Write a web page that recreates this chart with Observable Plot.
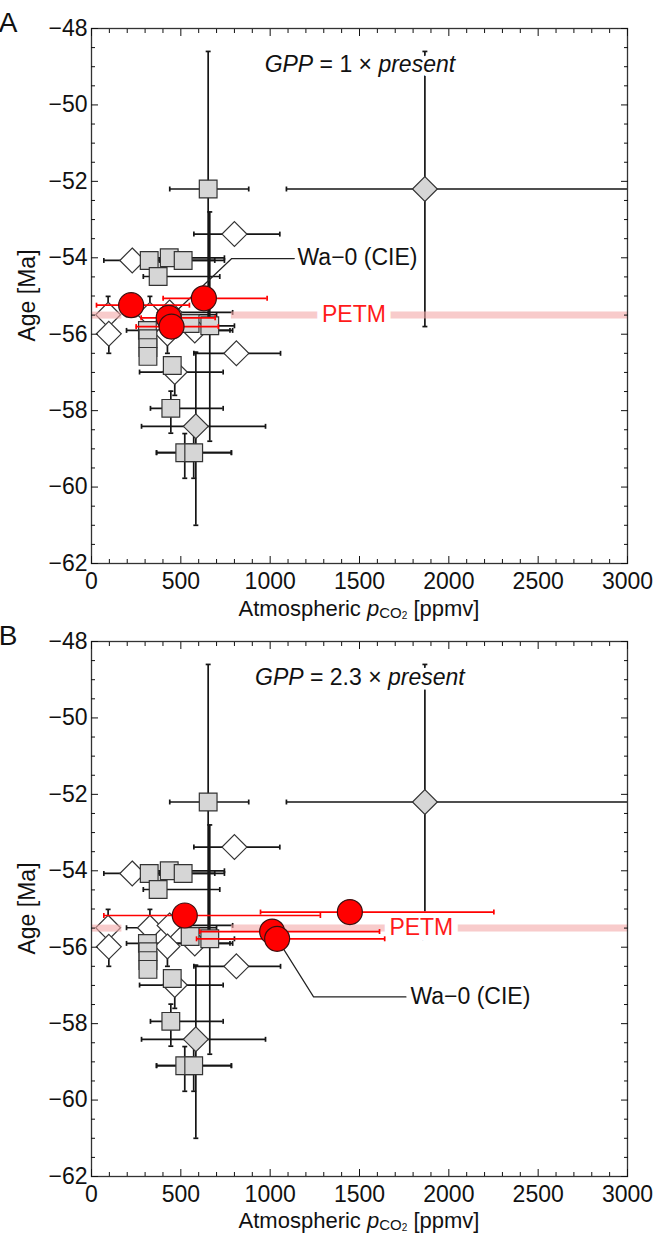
<!DOCTYPE html>
<html>
<head>
<meta charset="utf-8">
<script src="https://cdn.jsdelivr.net/npm/d3@7"></script>
<script src="https://cdn.jsdelivr.net/npm/@observablehq/plot@0.6"></script>
<style>
  body { margin: 0; background: #fff; }
  #chart { width: 655px; }
  #chart svg { display: block; overflow: visible; }
</style>
</head>
<body>
<div id="chart"></div>
<script>
// ---------- axis ticks ----------
const xMajor = [0, 500, 1000, 1500, 2000, 2500, 3000];
const xMinor = d3.range(0, 3001, 100).filter(v => v % 500 !== 0);
const yMajor = [-62, -60, -58, -56, -54, -52, -50, -48];
const yMinor = d3.range(-62, -47.9, 0.5).filter(v => v % 2 !== 0);

// ---------- proxy data (shared by both panels) ----------
// gray squares: x = pCO2 (ppmv), y = age (Ma), x1/x2 and y1/y2 = error bars
const graySquares = [
  {x: 653, y: -52.2, x1: 438, x2: 880, y1: -55.8, y2: -48.6},
  {x: 323, y: -54.07, x1: 200, x2: 690},
  {x: 435, y: -54.0, x1: 330, x2: 744},
  {x: 513, y: -54.07, x1: 380, x2: 744},
  {x: 373, y: -54.49, x1: 290, x2: 718},
  {x: 552, y: -55.72},
  {x: 662, y: -55.78, x1: 540, x2: 800, y1: -58.8, y2: -52.8},
  {x: 313, y: -55.9, x1: 196, x2: 775},
  {x: 316, y: -56.12},
  {x: 316, y: -56.35},
  {x: 316, y: -56.58},
  {x: 452, y: -56.82},
  {x: 444, y: -57.94, x1: 330, x2: 737, y1: -58.59, y2: -57.49},
  {x: 522, y: -59.1, x1: 364, x2: 783, y1: -59.77, y2: -58.6},
  {x: 572, y: -59.1, x1: 364, x2: 783, y1: -59.77, y2: -58.6}
];
// white diamonds
const whiteDiamonds = [
  {x: 93, y: -55.49, y1: -55.97, y2: -55.01},
  {x: 97, y: -55.99, y1: -56.5, y2: -55.5},
  {x: 327, y: -55.49, x1: 196, x2: 700, y1: -55.97, y2: -55.01},
  {x: 437, y: -55.43, x1: 300, x2: 790},
  {x: 425, y: -55.98, y1: -56.5, y2: -55.5},
  {x: 578, y: -55.9, x1: 400, x2: 790},
  {x: 466, y: -56.99, x1: 269, x2: 737, y1: -57.6, y2: -56.6},
  {x: 811, y: -56.5, x1: 573, x2: 1058},
  {x: 800, y: -53.38, x1: 573, x2: 1054},
  {x: 228, y: -54.07, x1: 69, x2: 390}
];
// gray diamonds
const grayDiamonds = [
  {x: 1866, y: -52.2, x1: 1091, x2: 3200, y1: -55.8, y2: -48.6},
  {x: 584, y: -58.41, x1: 280, x2: 974, y1: -61.0, y2: -56.47}
];

// ---------- model estimates for the Wa-0 (CIE) interval (red) ----------
const redA = [
  {x: 222, y: -55.24, x1: 28, x2: 548},
  {x: 629, y: -55.06, x1: 401, x2: 983},
  {x: 432, y: -55.57, x1: 278, x2: 692},
  {x: 448, y: -55.8, x1: 250, x2: 710}
];
const redB = [
  {x: 522, y: -55.17, x1: 69, x2: 1281},
  {x: 1446, y: -55.08, x1: 946, x2: 2252},
  {x: 1011, y: -55.59, x1: 606, x2: 1612},
  {x: 1039, y: -55.78, x1: 588, x2: 1641}
];

// ---------- annotations ----------
const petmY = -55.5;
const bandA = [{x1: 0, x2: 170}, {x1: 783, x2: 3000}];
const bandB = [{x1: 0, x2: 170}, {x1: 783, x2: 3000}];
const petmLabelA = [{x: 1469, y: petmY, text: "PETM"}];
const petmLabelB = [{x: 1846, y: petmY, text: "PETM"}];
const waLabelA = [{x: 1153, y: -54.0, text: "Wa\u22120 (CIE)"}];
const waLabelB = [{x: 1785, y: -57.3, text: "Wa\u22120 (CIE)"}];
const waLeaderA = [{x: 1135, y: -54.02}, {x: 785, y: -54.02}, {x: 440, y: -55.55}];
const waLeaderB = [{x: 1760, y: -57.3}, {x: 1243, y: -57.3}, {x: 1039, y: -55.78}];
const gppA = {x: 1505, baselineAbove: 44, factor: "1"};
const gppB = {x: 1505, baselineAbove: 44, factor: "2.3"};

// ---------- helpers ----------
const FONT = "'Liberation Sans', Arial, Helvetica, sans-serif";
const fmt = d3.format("d");
const capV = {draw(ctx, size) { const h = Math.sqrt(size) / 2; ctx.moveTo(0, -h); ctx.lineTo(0, h); }};
const capH = {draw(ctx, size) { const h = Math.sqrt(size) / 2; ctx.moveTo(-h, 0); ctx.lineTo(h, 0); }};
const hasH = rows => rows.filter(d => d.x1 != null);
const hasV = rows => rows.filter(d => d.y1 != null);
const hCaps = rows => hasH(rows).flatMap(d => [{x: d.x1, y: d.y}, {x: d.x2, y: d.y}]);
const vCaps = rows => hasV(rows).flatMap(d => [{x: d.x, y: d.y1}, {x: d.x, y: d.y2}]);

function panel(cfg) {
  const black = [...graySquares, ...whiteDiamonds, ...grayDiamonds];
  const ink = "#151515";
  const plot = Plot.plot({
    width: 655,
    height: cfg.height,
    marginTop: cfg.marginTop,
    marginBottom: 57,
    marginLeft: 91,
    marginRight: 28,
    x: {domain: [0, 3000], label: null},
    y: {domain: [-62, -48], label: null},
    style: {fontFamily: FONT, color: "#111", background: "transparent", overflow: "visible"},
    marks: [
      // black error bars
      Plot.ruleY(hasH(black), {y: "y", x1: "x1", x2: "x2", stroke: ink, strokeWidth: 1.7, clip: true}),
      Plot.ruleX(hasV(black), {x: "x", y1: "y1", y2: "y2", stroke: ink, strokeWidth: 1.7, clip: true}),
      Plot.dot(hCaps(black), {x: "x", y: "y", symbol: capV, r: 2.8, fill: "none", stroke: ink, strokeWidth: 1.7, clip: true}),
      Plot.dot(vCaps(black), {x: "x", y: "y", symbol: capH, r: 2.8, fill: "none", stroke: ink, strokeWidth: 1.7, clip: true}),
      // markers
      Plot.dot(grayDiamonds, {x: "x", y: "y", symbol: "diamond2", r: 11.2, fill: "#d6d6d6", stroke: "#333", strokeWidth: 1.2}),
      Plot.dot(whiteDiamonds, {x: "x", y: "y", symbol: "diamond2", r: 11.2, fill: "#fff", stroke: "#333", strokeWidth: 1.2}),
      Plot.dot(graySquares, {x: "x", y: "y", symbol: "square", r: 10, fill: "#d6d6d6", stroke: "#333", strokeWidth: 1.2}),
      // PETM band
      Plot.ruleY(cfg.band, {y: () => petmY, x1: "x1", x2: "x2", stroke: "#f4a8a8", strokeOpacity: 0.6, strokeWidth: 7}),
      // PETM label with white box
      Plot.text(cfg.petm, {x: "x", y: "y", text: "text", fill: "#ff1a1a", stroke: "#fff", strokeWidth: 13, paintOrder: "stroke", fontSize: 23, lineAnchor: "middle"}),
      // Wa-0 leader + label
      Plot.line(cfg.leader, {x: "x", y: "y", stroke: "#222", strokeWidth: 1.2}),
      Plot.text(cfg.wa, {x: "x", y: "y", text: "text", fill: "#111", fontSize: 23, textAnchor: "start", lineAnchor: "middle"}),
      // red error bars + circles
      Plot.ruleY(cfg.red, {y: "y", x1: "x1", x2: "x2", stroke: "#ff0000", strokeWidth: 1.7}),
      Plot.dot(hCaps(cfg.red), {x: "x", y: "y", symbol: capV, r: 2.8, fill: "none", stroke: "#ff0000", strokeWidth: 1.7}),
      Plot.dot(cfg.red, {x: "x", y: "y", r: 12.5, fill: "#ff0000", stroke: "#3a1010", strokeWidth: 1.2}),
      // frame + inward ticks on all sides
      Plot.frame({stroke: "#333", strokeWidth: 1.3}),
      Plot.axisX({anchor: "bottom", ticks: xMajor, tickSize: -7, tickPadding: 16.3, fontSize: 23, tickFormat: fmt, label: null}),
      Plot.axisX({anchor: "bottom", ticks: xMinor, tickSize: -4, tickFormat: () => "", label: null}),
      Plot.axisX({anchor: "top", ticks: xMajor, tickSize: -7, tickFormat: () => "", label: null}),
      Plot.axisX({anchor: "top", ticks: xMinor, tickSize: -4, tickFormat: () => "", label: null}),
      Plot.axisY({anchor: "left", ticks: yMajor, tickSize: -7, tickPadding: 11, fontSize: 23, tickFormat: fmt, label: null}),
      Plot.axisY({anchor: "left", ticks: yMinor, tickSize: -4, tickFormat: () => "", label: null}),
      Plot.axisY({anchor: "right", ticks: yMajor, tickSize: -7, tickFormat: () => "", label: null}),
      Plot.axisY({anchor: "right", ticks: yMinor, tickSize: -4, tickFormat: () => "", label: null})
    ]
  });

  const svg = d3.select(plot);
  const top = cfg.marginTop, bottom = cfg.height - 57;
  const cx = (91 + 627) / 2;
  const cy = (top + bottom) / 2;
  const sx = plot.scale("x");

  // GPP annotation with white background
  const g = svg.append("text")
    .attr("x", sx.apply(cfg.gpp.x)).attr("y", top + cfg.gpp.baselineAbove)
    .attr("text-anchor", "middle").attr("font-family", FONT).attr("font-size", 23)
    .attr("fill", "#111").attr("stroke", "#fff").attr("stroke-width", 9)
    .attr("paint-order", "stroke").attr("stroke-linejoin", "round");
  g.append("tspan").attr("font-style", "italic").text("GPP");
  g.append("tspan").text(" = " + cfg.gpp.factor + " \u00d7 ");
  g.append("tspan").attr("font-style", "italic").text("present");

  // x-axis label
  const xl = svg.append("text")
    .attr("x", cx).attr("y", bottom + cfg.labelOffset)
    .attr("text-anchor", "middle").attr("font-family", FONT).attr("font-size", 22).attr("fill", "#111");
  xl.append("tspan").text("Atmospheric ");
  xl.append("tspan").attr("font-style", "italic").text("p");
  xl.append("tspan").attr("font-size", 15).attr("dy", 2).text("CO");
  xl.append("tspan").attr("font-size", 10).attr("dy", 1).text("2");
  xl.append("tspan").attr("dy", -3).text(" [ppmv]");

  // y-axis label
  svg.append("text")
    .attr("transform", `translate(34.5,${cy}) rotate(-90)`)
    .attr("text-anchor", "middle").attr("font-family", FONT).attr("font-size", 23).attr("fill", "#111")
    .text("Age [Ma]");

  // panel letter
  svg.append("text")
    .attr("x", 8).attr("y", top + 4)
    .attr("font-family", FONT).attr("font-size", 28).attr("fill", "#111")
    .text(cfg.letter);

  return plot;
}

const chart = document.getElementById("chart");
chart.appendChild(panel({
  letter: "A", height: 620, marginTop: 28, red: redA, band: bandA, labelOffset: 53,
  petm: petmLabelA, wa: waLabelA, leader: waLeaderA, gpp: gppA
}));
chart.appendChild(panel({
  letter: "B", height: 613, marginTop: 21, red: redB, band: bandB, labelOffset: 51.5,
  petm: petmLabelB, wa: waLabelB, leader: waLeaderB, gpp: gppB
}));
</script>
</body>
</html>
